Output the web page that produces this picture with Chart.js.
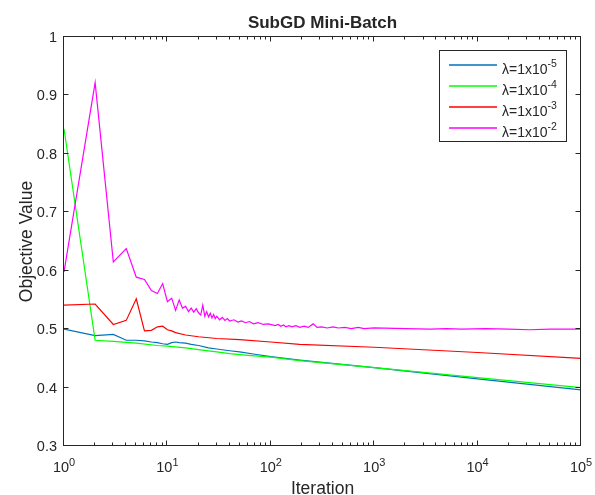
<!DOCTYPE html>
<html>
<head>
<meta charset="utf-8">
<script src="https://cdn.jsdelivr.net/npm/chart.js@4.4.0/dist/chart.umd.min.js"></script>
<style>
  html, body { margin: 0; padding: 0; background: #fff; }
</style>
</head>
<body>
<canvas id="myChart" width="595" height="495"></canvas>
<script>
// values
const iterBlue = [1, 2, 3, 4, 5, 6, 7, 8, 9, 10, 11, 12, 13, 15, 17, 20, 25, 30, 40, 50, 70, 100, 190, 1000, 10000, 100000];
const valBlue  = [0.500, 0.489, 0.491, 0.481, 0.481, 0.480, 0.478, 0.477, 0.475, 0.474, 0.477, 0.478, 0.477, 0.476, 0.474, 0.472, 0.468, 0.466, 0.463, 0.461, 0.457, 0.453, 0.447, 0.434, 0.415, 0.396];

const iterGreen = [1, 2, 3, 5, 8, 10, 15, 20, 30, 40, 60, 100, 190, 1000, 10000, 100000];
const valGreen  = [0.843, 0.481, 0.479, 0.476, 0.472, 0.471, 0.468, 0.465, 0.461, 0.458, 0.455, 0.452, 0.446, 0.434, 0.417, 0.400];

const iterRed = [1, 2, 3, 4, 5, 6, 7, 8, 9, 10, 11, 12, 15, 20, 30, 50, 100, 190, 1000, 10000, 100000];
const valRed  = [0.541, 0.543, 0.508, 0.515, 0.552, 0.497, 0.498, 0.504, 0.505, 0.499, 0.497, 0.494, 0.490, 0.487, 0.484, 0.482, 0.478, 0.474, 0.469, 0.460, 0.450];

const iterMagenta = [1, 2, 3, 4, 5, 6, 7, 8, 9, 10, 11, 12, 13, 14, 15, 16, 17, 18, 19, 20,
  21, 22, 23, 24, 25, 26, 27, 28, 29, 30, 32, 34, 36, 38, 40, 44, 48, 52, 57, 62, 68, 75, 85, 95,
  110, 118, 125, 133, 140, 150, 160, 175, 190, 210, 230, 257, 280, 310, 350, 400, 450, 520, 600, 700, 800, 1000,
  2000, 3500, 5000, 7000, 12000, 20000, 32000, 50000, 100000];
const valMagenta  = [0.598, 0.922, 0.615, 0.638, 0.589, 0.585, 0.566, 0.561, 0.578, 0.547, 0.553, 0.532, 0.550, 0.536, 0.539, 0.530, 0.536, 0.529, 0.535, 0.528,
  0.524, 0.541, 0.522, 0.530, 0.521, 0.527, 0.519, 0.525, 0.518, 0.522, 0.516, 0.520, 0.515, 0.518, 0.514, 0.516, 0.512, 0.514, 0.511, 0.513, 0.509, 0.511, 0.508, 0.509,
  0.506, 0.508, 0.505, 0.507, 0.504, 0.506, 0.504, 0.506, 0.503, 0.505, 0.503, 0.509, 0.503, 0.504, 0.502, 0.504, 0.502, 0.503, 0.501, 0.503, 0.501, 0.502,
  0.501, 0.500, 0.501, 0.500, 0.501, 0.500, 0.499, 0.500, 0.500];

const seriesLabels = ['-5', '-4', '-3', '-2'];   // exponent of lambda
const yTicks = [0.3, 0.4, 0.5, 0.6, 0.7, 0.8, 0.9, 1];
const yTickLabels = ['0.3', '0.4', '0.5', '0.6', '0.7', '0.8', '0.9', '1'];
const xDecades = [1, 10, 100, 1000, 10000, 100000];
const xDecadeExps = ['0', '1', '2', '3', '4', '5'];

const colors = ['#0072BD', '#00FF00', '#FF0000', '#FF00FF'];
const FONT = '"Liberation Sans", Arial, Helvetica, sans-serif';
const INK = '#262626';

function toPoints(xs, ys) {
    return xs.map((x, i) => ({ x: x, y: ys[i] }));
}

// matlab-like box, inward ticks, labels and legend
const matlabAxes = {
    id: 'matlabAxes',
    afterDatasetsDraw(chart) {
        const ctx = chart.ctx;
        const a = chart.chartArea;
        const xs = chart.scales.x;
        const ys = chart.scales.y;
        const L = Math.round(a.left) - 0.5, R = Math.round(a.right) - 0.5;
        const T = Math.round(a.top) - 0.5, B = Math.round(a.bottom) - 0.5;

        ctx.save();
        ctx.strokeStyle = INK;
        ctx.fillStyle = INK;
        ctx.lineWidth = 1;
        ctx.strokeRect(L, T, R - L, B - T);

        ctx.beginPath();
        yTicks.forEach(v => {
            const py = Math.round(ys.getPixelForValue(v)) - 0.5;
            ctx.moveTo(L, py); ctx.lineTo(L + 5, py);
            ctx.moveTo(R, py); ctx.lineTo(R - 5, py);
        });
        xDecades.forEach((d, k) => {
            const px = Math.round(xs.getPixelForValue(d)) - 0.5;
            ctx.moveTo(px, B); ctx.lineTo(px, B - 5);
            ctx.moveTo(px, T); ctx.lineTo(px, T + 5);
            if (k < xDecades.length - 1) {
                for (let m = 2; m <= 9; m++) {
                    const mx = Math.round(xs.getPixelForValue(d * m)) - 0.5;
                    ctx.moveTo(mx, B); ctx.lineTo(mx, B - 3);
                    ctx.moveTo(mx, T); ctx.lineTo(mx, T + 3);
                }
            }
        });
        ctx.stroke();

        // y tick labels
        ctx.font = '14.5px ' + FONT;
        ctx.textAlign = 'right';
        ctx.textBaseline = 'middle';
        yTicks.forEach((v, i) => {
            ctx.fillText(yTickLabels[i], a.left - 7, ys.getPixelForValue(v) + 1);
        });

        // x tick labels 10^n
        ctx.textAlign = 'left';
        ctx.textBaseline = 'alphabetic';
        xDecades.forEach((d, i) => {
            const px = xs.getPixelForValue(d);
            ctx.font = '14.5px ' + FONT;
            const w1 = ctx.measureText('10').width;
            ctx.font = '11px ' + FONT;
            const w2 = ctx.measureText(xDecadeExps[i]).width;
            const x0 = px - (w1 + w2) / 2;
            ctx.font = '14.5px ' + FONT;
            ctx.fillText('10', x0, a.bottom + 26);
            ctx.font = '11px ' + FONT;
            ctx.fillText(xDecadeExps[i], x0 + w1, a.bottom + 20);
        });

        // title and axis labels
        const cx = (a.left + a.right) / 2;
        ctx.textAlign = 'center';
        ctx.font = 'bold 17px ' + FONT;
        ctx.fillText('SubGD Mini-Batch', cx, 28);
        ctx.font = '17.5px ' + FONT;
        ctx.fillText('Iteration', cx, 494);
        ctx.save();
        ctx.translate(32, (a.top + a.bottom) / 2);
        ctx.rotate(-Math.PI / 2);
        ctx.fillText('Objective Value', 0, 0);
        ctx.restore();

        // legend
        const bx = 439.5, by = 50.5, bw = 127, bh = 91;
        ctx.fillStyle = '#fff';
        ctx.fillRect(bx, by, bw, bh);
        ctx.strokeStyle = INK;
        ctx.strokeRect(bx, by, bw, bh);
        ctx.lineWidth = 1.3;
        seriesLabels.forEach((e, i) => {
            const ly = Math.round(65 + 21.1 * i);
            ctx.strokeStyle = colors[i];
            ctx.beginPath();
            ctx.moveTo(449, ly); ctx.lineTo(497, ly);
            ctx.stroke();
            ctx.fillStyle = INK;
            ctx.textAlign = 'left';
            ctx.font = '14px ' + FONT;
            const base = '\u03bb=1x10';
            ctx.fillText(base, 502, ly + 9);
            const w = ctx.measureText(base).width;
            ctx.font = '10.5px ' + FONT;
            ctx.fillText(e, 502 + w, ly + 1.5);
        });
        ctx.restore();
    }
};

const ctx = document.getElementById('myChart').getContext('2d');
const chart = new Chart(ctx, {
    type: 'line',
    data: {
        datasets: [
            { label: 'l5', data: toPoints(iterBlue, valBlue), borderColor: colors[0], order: 4 },
            { label: 'l4', data: toPoints(iterGreen, valGreen), borderColor: colors[1], order: 3 },
            { label: 'l3', data: toPoints(iterRed, valRed), borderColor: colors[2], order: 2 },
            { label: 'l2', data: toPoints(iterMagenta, valMagenta), borderColor: colors[3], order: 1 }
        ]
    },
    options: {
        responsive: false,
        animation: false,
        layout: { padding: { left: 64, right: 14, top: 37, bottom: 49 } },
        elements: {
            point: { radius: 0 },
            line: { borderWidth: 1.2, tension: 0 }
        },
        scales: {
            x: { type: 'logarithmic', min: 1, max: 100000, display: false },
            y: { type: 'linear', min: 0.3, max: 1, display: false }
        },
        plugins: {
            legend: { display: false },
            tooltip: { enabled: false },
            title: { display: false }
        }
    },
    plugins: [matlabAxes]
});
</script>
</body>
</html>
